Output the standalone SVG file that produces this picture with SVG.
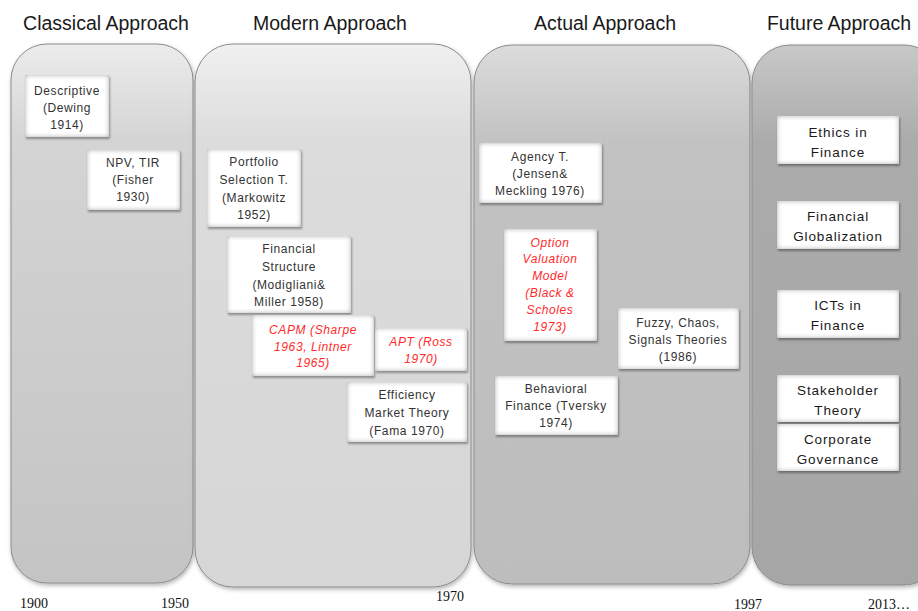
<svg xmlns="http://www.w3.org/2000/svg" width="918" height="611" viewBox="0 0 918 611">
<defs>
<linearGradient id="g1" x1="0" y1="0" x2="0" y2="1">
<stop offset="0" stop-color="#ececec"/><stop offset="0.18" stop-color="#d4d4d4"/><stop offset="1" stop-color="#c4c4c4"/>
</linearGradient>
<linearGradient id="g2" x1="0" y1="0" x2="0" y2="1">
<stop offset="0" stop-color="#f0f0f0"/><stop offset="0.18" stop-color="#dcdcdc"/><stop offset="1" stop-color="#d6d6d6"/>
</linearGradient>
<linearGradient id="g3" x1="0" y1="0" x2="0" y2="1">
<stop offset="0" stop-color="#dcdcdc"/><stop offset="0.18" stop-color="#c2c2c2"/><stop offset="1" stop-color="#bdbdbd"/>
</linearGradient>
<linearGradient id="g4" x1="0" y1="0" x2="0" y2="1">
<stop offset="0" stop-color="#c8c8c8"/><stop offset="0.18" stop-color="#ababab"/><stop offset="1" stop-color="#a6a6a6"/>
</linearGradient>
<filter id="psh" x="-5%" y="-5%" width="112%" height="110%">
<feGaussianBlur in="SourceAlpha" stdDeviation="2"/>
<feOffset dx="1" dy="2" result="o"/>
<feFlood flood-color="#000" flood-opacity="0.3"/>
<feComposite in2="o" operator="in" result="s"/>
<feMerge><feMergeNode in="s"/><feMergeNode in="SourceGraphic"/></feMerge>
</filter>
<filter id="bev" x="-10%" y="-10%" width="125%" height="130%">
<feFlood flood-color="#a0a0a0" result="f"/>
<feComposite in="f" in2="SourceAlpha" operator="out" result="o"/>
<feGaussianBlur in="o" stdDeviation="2.5" result="b"/>
<feComposite in="b" in2="SourceAlpha" operator="in" result="inner"/>
<feGaussianBlur in="SourceAlpha" stdDeviation="1.2" result="sb"/>
<feOffset in="sb" dx="1" dy="1.5" result="so"/>
<feFlood flood-color="#000" flood-opacity="0.35"/>
<feComposite in2="so" operator="in" result="shadow"/>
<feMerge><feMergeNode in="shadow"/><feMergeNode in="SourceGraphic"/><feMergeNode in="inner"/></feMerge>
</filter>
</defs>
<style>
.hd{font-family:"Liberation Sans",Arial,sans-serif;font-size:19.5px;fill:#1a1a1a;text-anchor:middle}
.pn{stroke:#8c8c8c;stroke-width:1;filter:url(#psh)}
.bx{fill:#ffffff;filter:url(#bev)}
.t{font-family:"Liberation Sans",Arial,sans-serif;font-size:12px;letter-spacing:0.6px;fill:#333;text-anchor:middle}
.r{fill:#ff2a2a;font-style:italic}
.f{font-family:"Liberation Sans",Arial,sans-serif;font-size:13.5px;letter-spacing:0.9px;fill:#1a1a1a;text-anchor:middle}
.yr{font-family:"Liberation Serif","Times New Roman",serif;font-size:14px;fill:#111}
</style>
<rect width="918" height="611" fill="#ffffff"/>

<g id="headers">
<text class="hd" x="106" y="30">Classical Approach</text>
<text class="hd" x="330" y="30">Modern Approach</text>
<text class="hd" x="605" y="30">Actual Approach</text>
<text class="hd" x="839" y="30">Future Approach</text>
</g>

<g id="panels">
<rect id="p-classical" class="pn" x="11" y="44" width="182" height="539" rx="36" fill="url(#g1)"/>
<rect id="p-modern" class="pn" x="195" y="44" width="276" height="543" rx="38" fill="url(#g2)"/>
<rect id="p-actual" class="pn" x="474" y="45" width="276" height="539" rx="38" fill="url(#g3)"/>
<rect id="p-future" class="pn" x="752" y="45" width="190" height="540" rx="38" fill="url(#g4)"/>
</g>

<g id="connectors"></g>

<g id="n-descriptive">
<rect class="bx" x="25" y="75" width="84" height="62"/>
<text class="t" x="67" y="95">Descriptive</text>
<text class="t" x="67" y="112">(Dewing</text>
<text class="t" x="67" y="129">1914)</text>
</g>
<g id="n-npv">
<rect class="bx" x="87" y="150" width="93" height="60"/>
<text class="t" x="133" y="167">NPV, TIR</text>
<text class="t" x="133" y="184">(Fisher</text>
<text class="t" x="133" y="201">1930)</text>
</g>

<g id="n-portfolio">
<rect class="bx" x="207" y="149" width="94" height="78"/>
<text class="t" x="254" y="166">Portfolio</text>
<text class="t" x="254" y="184">Selection T.</text>
<text class="t" x="254" y="202">(Markowitz</text>
<text class="t" x="254" y="219">1952)</text>
</g>
<g id="n-structure">
<rect class="bx" x="227" y="236" width="124" height="77"/>
<text class="t" x="289" y="253">Financial</text>
<text class="t" x="289" y="271">Structure</text>
<text class="t" x="289" y="289">(Modigliani&amp;</text>
<text class="t" x="289" y="306">Miller 1958)</text>
</g>
<g id="n-capm">
<rect class="bx" x="252" y="315" width="122" height="61"/>
<text class="t r" x="313" y="334">CAPM (Sharpe</text>
<text class="t r" x="313" y="351">1963, Lintner</text>
<text class="t r" x="313" y="367">1965)</text>
</g>
<g id="n-apt">
<rect class="bx" x="375" y="328" width="92" height="43"/>
<text class="t r" x="421" y="346">APT (Ross</text>
<text class="t r" x="421" y="363">1970)</text>
</g>
<g id="n-emt">
<rect class="bx" x="347" y="382" width="120" height="60"/>
<text class="t" x="407" y="399">Efficiency</text>
<text class="t" x="407" y="417">Market Theory</text>
<text class="t" x="407" y="435">(Fama 1970)</text>
</g>

<g id="n-agency">
<rect class="bx" x="479" y="143" width="123" height="60"/>
<text class="t" x="540" y="161">Agency T.</text>
<text class="t" x="540" y="178">(Jensen&amp;</text>
<text class="t" x="540" y="195">Meckling 1976)</text>
</g>
<g id="n-option">
<rect class="bx" x="504" y="229" width="93" height="112"/>
<text class="t r" x="550" y="247">Option</text>
<text class="t r" x="550" y="263">Valuation</text>
<text class="t r" x="550" y="280">Model</text>
<text class="t r" x="550" y="297">(Black &amp;</text>
<text class="t r" x="550" y="314">Scholes</text>
<text class="t r" x="550" y="331">1973)</text>
</g>
<g id="n-fuzzy">
<rect class="bx" x="618" y="308" width="121" height="61"/>
<text class="t" x="678" y="327">Fuzzy, Chaos,</text>
<text class="t" x="678" y="344">Signals Theories</text>
<text class="t" x="678" y="361">(1986)</text>
</g>
<g id="n-behavioral">
<rect class="bx" x="495" y="376" width="123" height="59"/>
<text class="t" x="556" y="393">Behavioral</text>
<text class="t" x="556" y="410">Finance (Tversky</text>
<text class="t" x="556" y="427">1974)</text>
</g>

<g id="n-ethics">
<rect class="bx" x="777" y="116" width="122" height="48"/>
<text class="f" x="838" y="137">Ethics in</text>
<text class="f" x="838" y="157">Finance</text>
</g>
<g id="n-global">
<rect class="bx" x="777" y="201" width="122" height="48"/>
<text class="f" x="838" y="221">Financial</text>
<text class="f" x="838" y="241">Globalization</text>
</g>
<g id="n-icts">
<rect class="bx" x="777" y="290" width="122" height="48"/>
<text class="f" x="838" y="310">ICTs in</text>
<text class="f" x="838" y="330">Finance</text>
</g>
<g id="n-stakeholder">
<rect class="bx" x="777" y="375" width="122" height="47"/>
<text class="f" x="838" y="395">Stakeholder</text>
<text class="f" x="838" y="415">Theory</text>
</g>
<g id="n-governance">
<rect class="bx" x="777" y="424" width="122" height="47"/>
<text class="f" x="838" y="444">Corporate</text>
<text class="f" x="838" y="464">Governance</text>
</g>

<g id="years">
<text class="yr" x="20" y="608">1900</text>
<text class="yr" x="161" y="608">1950</text>
<text class="yr" x="436" y="601">1970</text>
<text class="yr" x="734" y="609">1997</text>
<text class="yr" x="868" y="609">2013…</text>
</g>
</svg>
